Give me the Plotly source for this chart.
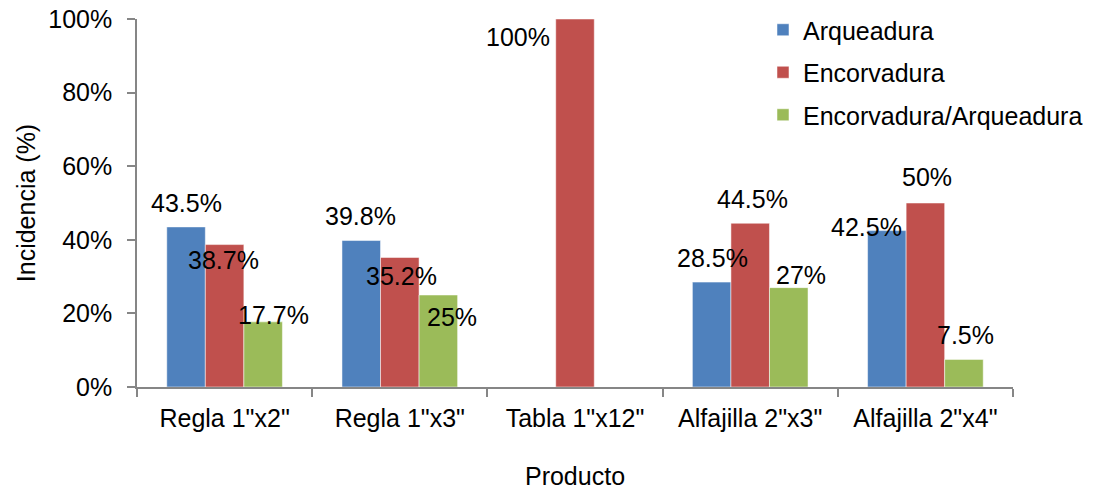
import plotly.graph_objects as go

categories = ['Regla 1"x2"', 'Regla 1"x3"', 'Tabla 1"x12"', 'Alfajilla 2"x3"', 'Alfajilla 2"x4"']
series_names = ["Arqueadura", "Encorvadura", "Encorvadura/Arqueadura"]
arqueadura = [0.435, 0.398, None, 0.285, 0.425]
encorvadura = [0.387, 0.352, 1.00, 0.445, 0.50]
encorv_arq = [0.177, 0.25, None, 0.27, 0.075]
label_texts = [
    ["43.5%", "39.8%", None, "28.5%", "42.5%"],
    ["38.7%", "35.2%", "100%", "44.5%", "50%"],
    ["17.7%", "25%", None, "27%", "7.5%"],
]
# label offsets (pixels) relative to bar top-centre
label_dx = [
    [0, -1, 0, 1, -20],
    [-1, 2, -57, 2, 2],
    [10, 14, 0, 12, 2],
]
label_dy = [
    [24, 25, 0, 24, 4],
    [-15, -19, -18, 24, 26],
    [7, -22, 0, 13, 24],
]
colors = ["#4F81BD", "#C0504D", "#9BBB59"]

FONT = "Arial, Liberation Sans, sans-serif"
FS = 25
series = [arqueadura, encorvadura, encorv_arq]
bargap = 0.34
bar_w = (1 - bargap) / 3

fig = go.Figure()
for k, (name, vals) in enumerate(zip(series_names, series)):
    fig.add_trace(go.Bar(
        x=categories, y=vals, name=name,
        marker=dict(color=colors[k], line=dict(color="rgba(255,255,255,0.5)", width=1)),
        legendgroup=name,
    ))

annotations = []
for k, vals in enumerate(series):
    for i, v in enumerate(vals):
        t = label_texts[k][i]
        if v is None or t is None:
            continue
        annotations.append(dict(
            x=i + (k - 1) * bar_w, y=v, xref="x", yref="y",
            text=t, showarrow=False,
            xshift=label_dx[k][i], yshift=label_dy[k][i],
            font=dict(family=FONT, size=FS, color="#000000"),
            xanchor="center", yanchor="middle",
        ))

fig.update_layout(
    width=1111, height=490,
    margin=dict(l=137, r=98, t=19, b=103, autoexpand=False),
    paper_bgcolor="white", plot_bgcolor="white",
    barmode="group", bargap=bargap, bargroupgap=0,
    font=dict(family=FONT, size=FS, color="#000000"),
    showlegend=True,
    legend=dict(
        x=0.7146, y=1.0326, xanchor="left", yanchor="top",
        font=dict(family=FONT, size=FS, color="#000000"),
        bgcolor="rgba(0,0,0,0)", traceorder="grouped", tracegroupgap=7,
        itemwidth=30,
    ),
    annotations=annotations,
    xaxis=dict(
        type="category", tickson="boundaries", ticks="outside", ticklen=8,
        tickcolor="#868686", tickwidth=1.5, ticklabelstandoff=8,
        showline=True, linecolor="#868686", linewidth=1.5,
        showgrid=False, tickfont=dict(family=FONT, size=FS), automargin=False,
        title=dict(text="Producto", font=dict(family=FONT, size=FS), standoff=42),
    ),
    yaxis=dict(
        range=[0, 1], dtick=0.2, tickformat=".0%", ticks="outside", ticklen=8,
        tickcolor="#868686", tickwidth=1.5, ticklabelstandoff=10,
        ticklabeloverflow="allow",
        showline=True, linecolor="#868686", linewidth=1.5,
        showgrid=False, zeroline=False, tickfont=dict(family=FONT, size=FS), automargin=False,
        title=dict(text="Incidencia (%)", font=dict(family=FONT, size=FS), standoff=6),
    ),
)

# remove the default 8px page margin so the figure fills the window
fig.write_html(
    "out.html",
    config={"displayModeBar": False},
    post_script="document.body.style.margin='0px';",
)
